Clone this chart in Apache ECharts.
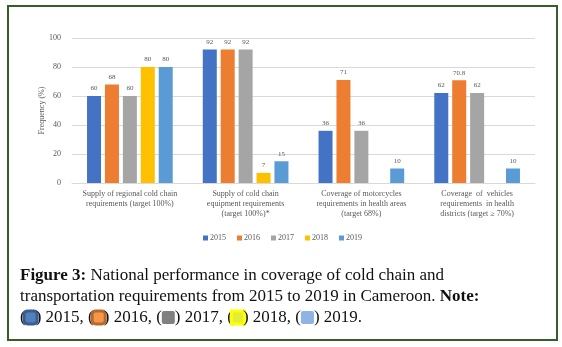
<!DOCTYPE html>
<html><head><meta charset="utf-8">
<script src="https://cdn.jsdelivr.net/npm/echarts@6/dist/echarts.min.js"></script>
<style>html,body{margin:0;padding:0;background:#fff}#c{width:562px;height:347px}</style>
</head><body><div id="c"></div>
<script>
var categories = [
  "Supply of regional cold chain\nrequirements (target 100%)",
  "Supply of cold chain\nequipment requirements\n(target 100%)*",
  "Coverage of motorcycles\nrequirements in health areas\n(target 68%)",
  "Coverage  of  vehicles\nrequirements  in health\ndistricts (target \u2265 70%)"
];
var years = ["2015", "2016", "2017", "2018", "2019"];
var v2015 = [60, 92, 36, 62];
var v2016 = [68, 92, 71, 70.8];
var v2017 = [60, 92, 36, 62];
var v2018 = [80, 7, null, null];
var v2019 = [80, 15, 10, 10];
var yTicks = [0, 20, 40, 60, 80, 100];
var colors = ["#4472C4", "#ED7D31", "#A5A5A5", "#FFC000", "#5B9BD5"];
var values = [v2015, v2016, v2017, v2018, v2019];

var serif = "Liberation Serif";
var chart = echarts.init(document.getElementById('c'), null, {renderer: 'canvas'});
var series = years.map(function (y, i) {
  return {
    name: y, type: 'bar', data: values[i], barWidth: 14, barGap: '28%',
    itemStyle: {color: colors[i]},
    label: {show: true, position: 'top', distance: 4, fontSize: 7, color: '#595959', fontFamily: serif}
  };
});
chart.setOption({
  animation: false,
  textStyle: {fontFamily: serif},
  grid: {left: 72, right: 27, top: 38, bottom: 164, containLabel: false},
  legend: {
    data: years, left: 198, top: 229, itemWidth: 5, itemHeight: 5, itemGap: 11, icon: 'rect',
    textStyle: {fontSize: 8, color: '#595959', fontFamily: serif, padding: [0, 0, 0, -3]}
  },
  xAxis: {
    type: 'category', data: categories,
    axisLine: {lineStyle: {color: '#d9d9d9'}}, axisTick: {show: false},
    axisLabel: {interval: 0, fontSize: 8, lineHeight: 10, color: '#595959', margin: 6, fontFamily: serif}
  },
  yAxis: {
    type: 'value', min: yTicks[0], max: yTicks[yTicks.length - 1], interval: 20,
    name: 'Frequency (%)', nameLocation: 'middle', nameGap: 26, nameRotate: 90, nameMoveOverlap: false,
    nameTextStyle: {fontSize: 8, color: '#595959', fontFamily: serif},
    axisLine: {show: false}, axisTick: {show: false},
    axisLabel: {fontSize: 8, color: '#595959', margin: 11, fontFamily: serif},
    splitLine: {lineStyle: {color: '#d9d9d9'}}
  },
  series: series,
  graphic: [
    {type: 'rect', shape: {x: 8, y: 6, width: 549, height: 334}, style: {fill: null, stroke: '#375e27', lineWidth: 2}, silent: true},
    {type: 'text', left: 20, top: 265, style: {
      text: '{b|Figure 3:} National performance in coverage of cold chain and\ntransportation requirements from 2015 to 2019 in Cameroon. {b|Note:}\n({s1|}) 2015, ({s2|}) 2016, ({s3|}) 2017, ({s4|}) 2018, ({s5|}) 2019.',
      font: '17px "Liberation Serif"', fill: '#111', lineHeight: 21,
      rich: {
        b: {fontWeight: 'bold', fontSize: 17, fontFamily: serif, fill: '#111'},
        s1: {width: 10, height: 10, backgroundColor: '#4f81bd', borderColor: '#3b5d8c', borderWidth: 3, borderRadius: 2},
        s2: {width: 10, height: 10, backgroundColor: '#f79646', borderColor: '#b8692c', borderWidth: 3, borderRadius: 2},
        s3: {width: 13, height: 13, backgroundColor: '#808080', borderRadius: 2},
        s4: {width: 10, height: 10, backgroundColor: '#e0ee3a', borderColor: '#ffff00', borderWidth: 3},
        s5: {width: 13, height: 13, backgroundColor: '#8eb4e3', borderRadius: 2}
      }
    }}
  ]
});
</script></body></html>
